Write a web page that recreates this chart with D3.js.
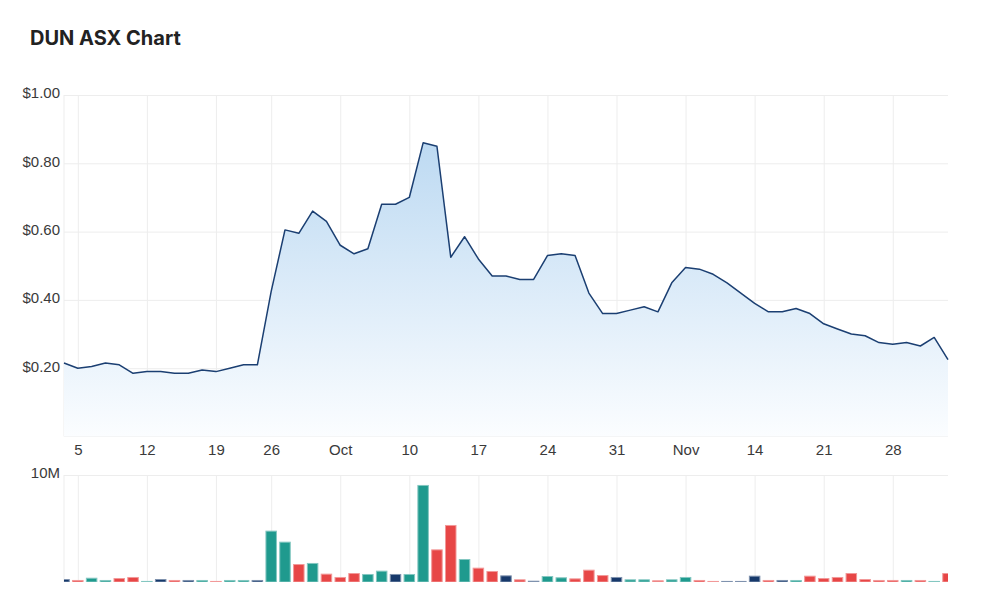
<!DOCTYPE html>
<html>
<head>
<meta charset="utf-8">
<script src="https://cdn.jsdelivr.net/npm/d3@7"></script>
<style>
  body { margin: 0; background: #fff; }
  svg { display: block; font-family: Inter, "Noto Sans", sans-serif; }
  .grid line { stroke: #ededed; stroke-width: 1; }
  .grid .domain { display: none; }
  .axis .domain { display: none; }
  .axis text { fill: #3a3a3a; font-size: 15px; }
</style>
</head>
<body>
<svg></svg>
<script>
const width = 1000;
const height = 607;

// trading days, Sep 2 - Dec 2 2022 (ASX closed Sep 22)
const dates = [
  "2022-09-02",
  "2022-09-05", "2022-09-06", "2022-09-07", "2022-09-08", "2022-09-09",
  "2022-09-12", "2022-09-13", "2022-09-14", "2022-09-15", "2022-09-16",
  "2022-09-19", "2022-09-20", "2022-09-21", "2022-09-23",
  "2022-09-26", "2022-09-27", "2022-09-28", "2022-09-29", "2022-09-30",
  "2022-10-03", "2022-10-04", "2022-10-05", "2022-10-06", "2022-10-07",
  "2022-10-10", "2022-10-11", "2022-10-12", "2022-10-13", "2022-10-14",
  "2022-10-17", "2022-10-18", "2022-10-19", "2022-10-20", "2022-10-21",
  "2022-10-24", "2022-10-25", "2022-10-26", "2022-10-27", "2022-10-28",
  "2022-10-31", "2022-11-01", "2022-11-02", "2022-11-03", "2022-11-04",
  "2022-11-07", "2022-11-08", "2022-11-09", "2022-11-10", "2022-11-11",
  "2022-11-14", "2022-11-15", "2022-11-16", "2022-11-17", "2022-11-18",
  "2022-11-21", "2022-11-22", "2022-11-23", "2022-11-24", "2022-11-25",
  "2022-11-28", "2022-11-29", "2022-11-30", "2022-12-01", "2022-12-02"
];

const closes = [
  0.215,
  0.20, 0.205, 0.215, 0.21, 0.185,
  0.19, 0.19, 0.185, 0.185, 0.195,
  0.19, 0.20, 0.21, 0.21,
  0.425, 0.605, 0.595, 0.66, 0.63,
  0.56, 0.535, 0.55, 0.68, 0.68,
  0.70, 0.86, 0.85, 0.525, 0.585,
  0.52, 0.47, 0.47, 0.46, 0.46,
  0.53, 0.535, 0.53, 0.42, 0.36,
  0.36, 0.37, 0.38, 0.365, 0.45,
  0.495, 0.49, 0.475, 0.45, 0.42,
  0.39, 0.365, 0.365, 0.375, 0.36,
  0.33, 0.315, 0.30, 0.295, 0.275,
  0.27, 0.275, 0.265, 0.29, 0.225
];

// volume in millions
const volumes = [
  0.28,
  0.19, 0.40, 0.19, 0.37, 0.47,
  0.10, 0.28, 0.19, 0.19, 0.19,
  0.10, 0.19, 0.19, 0.19,
  4.80, 3.77, 1.68, 1.78, 0.78,
  0.47, 0.84, 0.75, 1.06, 0.75,
  0.75, 9.07, 3.05, 5.33, 2.15,
  1.34, 1.03, 0.62, 0.25, 0.12,
  0.56, 0.44, 0.34, 1.15, 0.65,
  0.47, 0.25, 0.25, 0.16, 0.25,
  0.47, 0.19, 0.10, 0.10, 0.10,
  0.59, 0.19, 0.19, 0.19, 0.59,
  0.37, 0.47, 0.84, 0.28, 0.19,
  0.19, 0.19, 0.19, 0.10, 0.84
];

// u = up, d = down, f = flat
const moves = [
  "f",
  "d", "u", "u", "d", "d",
  "u", "f", "d", "f", "u",
  "d", "u", "u", "f",
  "u", "u", "d", "u", "d",
  "d", "d", "u", "u", "f",
  "u", "u", "d", "d", "u",
  "d", "d", "f", "d", "f",
  "u", "u", "d", "d", "d",
  "f", "u", "u", "d", "u",
  "u", "d", "d", "f", "f",
  "f", "d", "f", "u", "d",
  "d", "d", "d", "d", "d",
  "d", "u", "d", "u", "d"
];

const tickDates = ["2022-09-05", "2022-09-12", "2022-09-19", "2022-09-26", "2022-10-03", "2022-10-10",
  "2022-10-17", "2022-10-24", "2022-10-31", "2022-11-07", "2022-11-14", "2022-11-21", "2022-11-28"];
const tickLabels = ["5", "12", "19", "26", "Oct", "10", "17", "24", "31", "Nov", "14", "21", "28"];
const priceTicks = [0.2, 0.4, 0.6, 0.8, 1.0];
const volumeTicks = [10];

const moveColors = { u: "#1f9a8e", d: "#e74646", f: "#17396b" };

const rows = dates.map((d, i) => ({ date: d, close: closes[i], volume: volumes[i], move: moves[i] }));

const left = 64, right = 948;
const priceTop = 95, priceBottom = 436.5;
const volTop = 475, volBottom = 582;

const svg = d3.select('svg')
    .attr('width', width).attr('height', height);

svg.append("text")
    .attr("x", 30).attr("y", 45)
    .style("font-size", "20px")
    .style("font-weight", "700")
    .style("fill", "#222")
    .text("DUN ASX Chart");

const x = d3.scalePoint().domain(dates).range([left, right]);
const y = d3.scaleLinear().domain([0, 1]).range([priceBottom, priceTop]);
const yVol = d3.scaleLinear().domain([0, 10]).range([volBottom, volTop]);

const defs = svg.append("defs");
const grad = defs.append("linearGradient")
    .attr("id", "areaFill")
    .attr("gradientUnits", "userSpaceOnUse")
    .attr("x1", 0).attr("x2", 0)
    .attr("y1", priceTop).attr("y2", priceBottom);
grad.append("stop").attr("offset", "0%").attr("stop-color", "#b3d4f0");
grad.append("stop").attr("offset", "100%").attr("stop-color", "#fbfdff");

defs.append("clipPath").attr("id", "volClip")
  .append("rect")
    .attr("x", left).attr("y", volTop - 5)
    .attr("width", right - left).attr("height", volBottom - volTop + 5);

drawPricePanel();
drawVolumePanel();

function drawGrid(top, bottom, yScale, yTicks) {
    svg.append("g")
        .attr("class", "grid")
        .attr("transform", `translate(0,${bottom})`)
        .call(d3.axisBottom(x).tickValues(tickDates).tickSize(-(bottom - top)).tickFormat(""));

    svg.append("g")
        .attr("class", "grid")
        .attr("transform", `translate(${left},0)`)
        .call(d3.axisLeft(yScale).tickValues(yTicks).tickSize(-(right - left)).tickFormat(""));

    // left edge
    svg.append("line")
        .attr("x1", left).attr("x2", left)
        .attr("y1", top).attr("y2", bottom)
        .style("stroke", "#ededed");
}

function drawPricePanel() {
    drawGrid(priceTop, priceBottom, y, priceTicks);

    svg.append("line")
        .attr("x1", left).attr("x2", right)
        .attr("y1", priceBottom).attr("y2", priceBottom)
        .style("stroke", "#ededed");

    const area = d3.area()
        .x(d => x(d.date))
        .y0(priceBottom)
        .y1(d => y(d.close));

    const line = d3.line()
        .x(d => x(d.date))
        .y(d => y(d.close));

    svg.append("path")
        .datum(rows)
        .attr("d", area)
        .style("fill", "url(#areaFill)");

    svg.append("path")
        .datum(rows)
        .attr("d", line)
        .style("fill", "none")
        .style("stroke", "#1b3f72")
        .style("stroke-width", "1.5px")
        .style("stroke-linejoin", "round");

    const yAxis = svg.append("g")
        .attr("class", "axis")
        .attr("transform", `translate(${left - 4},-2)`)
        .call(d3.axisLeft(y).tickValues(priceTicks).tickSize(0).tickFormat(d3.format("$.2f")));
    yAxis.selectAll("text").attr("x", 0);

    svg.append("g")
        .attr("class", "axis")
        .attr("transform", `translate(0,${priceBottom + 3})`)
        .call(d3.axisBottom(x).tickValues(tickDates).tickSize(0)
            .tickFormat(d => tickLabels[tickDates.indexOf(d)]))
        .selectAll("text").attr("dy", "0.71em").attr("y", 5);
}

function drawVolumePanel() {
    drawGrid(volTop, volBottom, yVol, volumeTicks);

    const bw = 11.5;
    svg.append("g")
        .attr("clip-path", "url(#volClip)")
        .selectAll("rect")
        .data(rows)
        .enter().append("rect")
        .attr("x", d => x(d.date) - bw / 2 + 0.5)
        .attr("width", bw - 1)
        .attr("y", d => yVol(d.volume) + 0.5)
        .attr("height", d => Math.max(volBottom - yVol(d.volume) - 0.5, 0.5))
        .style("fill", d => moveColors[d.move])
        .style("stroke", d => d3.interpolateRgb(moveColors[d.move], "#fff")(0.45))
        .style("stroke-width", 1);

    svg.append("g")
        .attr("class", "axis")
        .attr("transform", `translate(${left - 4},-2)`)
        .call(d3.axisLeft(yVol).tickValues(volumeTicks).tickSize(0).tickFormat(d => d + "M"))
        .selectAll("text").attr("x", 0);
}
</script>
</body>
</html>
